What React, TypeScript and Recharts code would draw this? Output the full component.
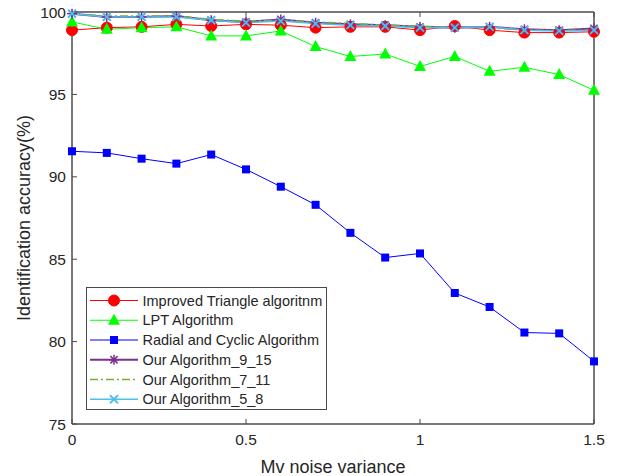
import React from 'react';
import { LineChart, Line, XAxis, YAxis, Legend, ReferenceArea } from 'recharts';

const noiseVariance = [0, 0.1, 0.2, 0.3, 0.4, 0.5, 0.6, 0.7, 0.8, 0.9, 1.0, 1.1, 1.2, 1.3, 1.4, 1.5];

const improvedTriangle = [98.9, 99.05, 99.1, 99.25, 99.15, 99.25, 99.2, 99.05, 99.1, 99.1, 98.9, 99.15, 98.9, 98.75, 98.75, 98.8];
const lpt = [99.4, 98.95, 99.05, 99.1, 98.55, 98.55, 98.85, 97.9, 97.3, 97.45, 96.7, 97.3, 96.4, 96.65, 96.2, 95.25];
const radialCyclic = [91.55, 91.45, 91.1, 90.8, 91.35, 90.45, 89.4, 88.3, 86.6, 85.1, 85.35, 82.95, 82.1, 80.55, 80.5, 78.8];
const ours_9_15 = [99.9, 99.7, 99.7, 99.75, 99.5, 99.4, 99.55, 99.35, 99.25, 99.2, 99.1, 99.05, 99.1, 98.95, 98.9, 99.0];
const ours_7_11 = [99.9, 99.75, 99.75, 99.75, 99.55, 99.45, 99.5, 99.4, 99.3, 99.2, 99.15, 99.05, 99.05, 98.9, 98.9, 98.9];
const ours_5_8 = [99.9, 99.7, 99.7, 99.7, 99.5, 99.35, 99.45, 99.3, 99.2, 99.15, 99.05, 99.05, 99.1, 98.9, 98.85, 98.9];

const xTicks = [0, 0.5, 1, 1.5];
const yTicks = [75, 80, 85, 90, 95, 100];

const data = noiseVariance.map((x, i) => ({
  x,
  tri: improvedTriangle[i],
  lpt: lpt[i],
  rc: radialCyclic[i],
  a915: ours_9_15[i],
  a711: ours_7_11[i],
  a58: ours_5_8[i],
}));

type Marker = 'circle' | 'triangle' | 'square' | 'star' | 'cross' | 'none';

const series: { key: string; name: string; color: string; width: number; dash?: string; marker: Marker }[] = [
  { key: 'tri', name: 'Improved Triangle algoritnm', color: '#ff0000', width: 1, marker: 'circle' },
  { key: 'lpt', name: 'LPT Algorithm', color: '#00ff00', width: 1, marker: 'triangle' },
  { key: 'rc', name: 'Radial and Cyclic Algorithm', color: '#0000ff', width: 1, marker: 'square' },
  { key: 'a915', name: 'Our Algorithm_9_15', color: '#7e2f8e', width: 2, marker: 'star' },
  { key: 'a711', name: 'Our Algorithm_7_11', color: '#77ac30', width: 1.5, dash: '8 3 2 3', marker: 'none' },
  { key: 'a58', name: 'Our Algorithm_5_8', color: '#4dbeee', width: 1.5, marker: 'cross' },
];

const AXIS = '#4a4a4a';
const FONT = '"Liberation Sans", Arial, Helvetica, sans-serif';

function drawMarker(marker: Marker, cx: number, cy: number, color: string, key?: string) {
  switch (marker) {
    case 'circle':
      return <circle key={key} cx={cx} cy={cy} r={5.5} fill={color} stroke={color} />;
    case 'triangle':
      return <polygon key={key} points={`${cx},${cy - 6.5} ${cx + 6},${cy + 4.5} ${cx - 6},${cy + 4.5}`} fill={color} />;
    case 'square':
      return <rect key={key} x={cx - 4} y={cy - 4} width={8} height={8} fill={color} />;
    case 'star':
      return (
        <g key={key} stroke={color} strokeWidth={1.5}>
          <line x1={cx - 5} y1={cy} x2={cx + 5} y2={cy} />
          <line x1={cx} y1={cy - 5} x2={cx} y2={cy + 5} />
          <line x1={cx - 3.6} y1={cy - 3.6} x2={cx + 3.6} y2={cy + 3.6} />
          <line x1={cx - 3.6} y1={cy + 3.6} x2={cx + 3.6} y2={cy - 3.6} />
        </g>
      );
    case 'cross':
      return (
        <g key={key} stroke={color} strokeWidth={1.8}>
          <line x1={cx - 4} y1={cy - 4} x2={cx + 4} y2={cy + 4} />
          <line x1={cx - 4} y1={cy + 4} x2={cx + 4} y2={cy - 4} />
        </g>
      );
    default:
      return <g key={key} />;
  }
}

const makeDot = (marker: Marker, color: string) => (props: any) =>
  drawMarker(marker, props.cx, props.cy, color, `${marker}-${props.index}`);

const LegendBox = () => (
  <svg width={241} height={123} style={{ display: 'block' }}>
    <rect x={0.5} y={0.5} width={240} height={122} fill="#fff" stroke={AXIS} />
    {series.map((s, i) => {
      const y = 13.5 + i * 19.75;
      return (
        <g key={s.key}>
          <line x1={4} y1={y} x2={52} y2={y} stroke={s.color} strokeWidth={s.width} strokeDasharray={s.dash} />
          {drawMarker(s.marker, 28, y, s.color)}
          <text x={56.5} y={y + 5.2} fontSize={14.5} fill="#262626" fontFamily={FONT}>
            {s.name}
          </text>
        </g>
      );
    })}
  </svg>
);

export default function App() {
  return (
    <div style={{ position: 'absolute', left: 0, top: 0, background: '#fff' }}>
      <LineChart width={619} height={476} data={data} margin={{ top: 11, right: 24, left: 0, bottom: 0 }}>
        <XAxis
          dataKey="x"
          type="number"
          domain={[0, 1.5]}
          ticks={xTicks}
          height={52}
          stroke={AXIS}
          tickSize={-5}
          tickMargin={15}
          tick={{ fill: '#262626', fontSize: 15.5, fontFamily: FONT }}
          label={{ value: 'Mv noise variance', position: 'insideBottom', offset: 0, dy: -3, fill: '#262626', fontSize: 18, fontFamily: FONT }}
        />
        <XAxis
          xAxisId="top"
          dataKey="x"
          type="number"
          orientation="top"
          domain={[0, 1.5]}
          ticks={xTicks}
          height={1}
          stroke={AXIS}
          tickSize={-5}
          tickFormatter={() => ''}
        />
        <YAxis
          type="number"
          domain={[75, 100]}
          ticks={yTicks}
          width={72}
          stroke={AXIS}
          tickSize={-5}
          tickMargin={11}
          tick={{ fill: '#262626', fontSize: 15.5, fontFamily: FONT }}
          label={{ value: 'Identification accuracy(%)', angle: -90, position: 'center', dx: -12, fill: '#262626', fontSize: 18, fontFamily: FONT }}
        />
        <YAxis
          yAxisId="right"
          orientation="right"
          type="number"
          domain={[75, 100]}
          ticks={yTicks}
          width={1}
          stroke={AXIS}
          tickSize={-5}
          tickFormatter={() => ''}
        />
        {/* axes box outline */}
        <ReferenceArea x1={0} x2={1.5} y1={75} y2={100} fill="none" fillOpacity={0} stroke={AXIS} strokeWidth={1} ifOverflow="visible" />
        <Legend
          layout="vertical"
          verticalAlign="middle"
          align="center"
          content={() => <LegendBox />}
          wrapperStyle={{ position: 'absolute', left: 86, top: 287, width: 241, height: 123 }}
        />
        {series.map((s) => (
          <Line
            key={s.key}
            dataKey={s.key}
            name={s.name}
            type="linear"
            stroke={s.color}
            strokeWidth={s.width}
            strokeDasharray={s.dash}
            dot={makeDot(s.marker, s.color)}
            activeDot={false}
            isAnimationActive={false}
          />
        ))}
      </LineChart>
    </div>
  );
}
